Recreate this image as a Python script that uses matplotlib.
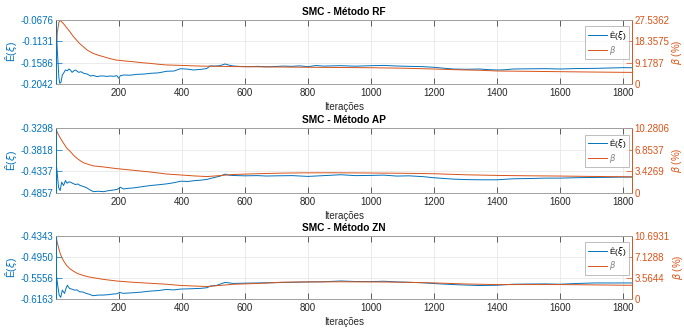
import matplotlib
matplotlib.use('Agg')
import matplotlib.pyplot as plt

# MATLAB default colours
BLUE = '#0072BD'
ORANGE = '#D95319'
GREY = '#262626'

plt.rcParams['font.family'] = ['Liberation Sans', 'DejaVu Sans']
plt.rcParams['axes.unicode_minus'] = False
plt.rcParams['mathtext.fontset'] = 'dejavusans'

titles = ['SMC - Método RF', 'SMC - Método AP', 'SMC - Método ZN']
x_ticks = [200, 400, 600, 800, 1000, 1200, 1400, 1600, 1800]
x_max = 1827

# --- Método RF ---
rf_iter_e = [1, 5, 10, 13, 17, 21, 26, 31, 37, 42, 47, 52, 58, 63, 68, 73, 80, 89, 100,
             110, 120, 131, 142, 152, 163, 173, 184, 194, 200, 205, 215, 235, 257, 280,
             300, 325, 352, 375, 396, 418, 437, 460, 479, 490, 505, 521, 537, 550, 563,
             590, 616, 640, 668, 700, 720, 750, 773, 800, 825, 850, 877, 904, 950, 1000,
             1040, 1081, 1120, 1165, 1200, 1230, 1260, 1300, 1344, 1370, 1400, 1425,
             1450, 1500, 1554, 1600, 1650, 1710, 1760, 1800, 1827]
rf_e = [-0.0700, -0.1300, -0.1900, -0.2028, -0.2000, -0.1850, -0.1800, -0.1743, -0.1760,
        -0.1722, -0.1745, -0.1793, -0.1760, -0.1743, -0.1770, -0.1793, -0.1780, -0.1814,
        -0.1830, -0.1871, -0.1860, -0.1885, -0.1870, -0.1871, -0.1880, -0.1871, -0.1878,
        -0.1864, -0.1921, -0.1865, -0.1850, -0.1855, -0.1836, -0.1830, -0.1814, -0.1805,
        -0.1770, -0.1765, -0.1715, -0.1725, -0.1743, -0.1730, -0.1712, -0.1655, -0.1660,
        -0.1650, -0.1615, -0.1640, -0.1658, -0.1670, -0.1672, -0.1665, -0.1675, -0.1668,
        -0.1660, -0.1665, -0.1655, -0.1672, -0.1648, -0.1660, -0.1655, -0.1651, -0.1662,
        -0.1651, -0.1645, -0.1658, -0.1665, -0.1672, -0.1686, -0.1705, -0.1722, -0.1728,
        -0.1722, -0.1735, -0.1743, -0.1738, -0.1722, -0.1718, -0.1715, -0.1722, -0.1712,
        -0.1708, -0.1700, -0.1693, -0.1695]
rf_iter_b = [1, 5, 10, 14, 17, 24, 35, 45, 55, 66, 76, 87, 100, 118, 135, 150, 170, 192,
             220, 245, 270, 298, 325, 350, 400, 459, 520, 563, 668, 717, 800, 900, 1000,
             1100, 1200, 1280, 1344, 1400, 1500, 1600, 1700, 1800, 1827]
rf_beta = [14.0, 22.0, 26.5, 27.3, 27.0, 26.1, 24.2, 22.5, 20.6, 18.9, 17.4, 16.1, 14.6,
           13.2, 12.4, 11.8, 11.0, 10.3, 9.9, 9.6, 9.2, 8.9, 8.5, 8.2, 8.0, 7.7, 7.6, 7.5,
           7.35, 7.3, 7.2, 7.1, 7.0, 6.8, 6.45, 6.1, 5.9, 5.6, 5.45, 5.3, 5.15, 5.02, 5.0]
rf_e_ticks = [-0.2042, -0.1586, -0.1131, -0.0676]
rf_b_ticks = [0, 9.1787, 18.3575, 27.5362]

# --- Método AP ---
ap_iter_e = [1, 3, 9, 14, 19, 25, 31, 36, 42, 47, 55, 63, 70, 78, 88, 99, 110, 120, 135,
             152, 168, 184, 195, 205, 215, 230, 247, 270, 300, 325, 352, 375, 396, 420,
             440, 459, 480, 500, 521, 537, 550, 563, 600, 640, 668, 700, 750, 800, 850,
             904, 950, 1000, 1040, 1081, 1120, 1165, 1200, 1260, 1300, 1344, 1400, 1450,
             1500, 1554, 1600, 1650, 1710, 1760, 1800, 1827]
ap_e = [-0.4250, -0.4232, -0.4719, -0.4800, -0.4597, -0.4678, -0.4557, -0.4622, -0.4590,
        -0.4597, -0.4630, -0.4654, -0.4640, -0.4678, -0.4700, -0.4735, -0.4790, -0.4825,
        -0.4815, -0.4825, -0.4800, -0.4784, -0.4770, -0.4719, -0.4760, -0.4745, -0.4735,
        -0.4710, -0.4678, -0.4660, -0.4638, -0.4610, -0.4574, -0.4580, -0.4560, -0.4550,
        -0.4530, -0.4490, -0.4453, -0.4405, -0.4430, -0.4437, -0.4445, -0.4440, -0.4450,
        -0.4445, -0.4440, -0.4459, -0.4440, -0.4419, -0.4440, -0.4435, -0.4428, -0.4451,
        -0.4445, -0.4465, -0.4492, -0.4524, -0.4535, -0.4540, -0.4540, -0.4516, -0.4510,
        -0.4500, -0.4500, -0.4490, -0.4484, -0.4480, -0.4475, -0.4475]
ap_iter_b = [1, 5, 9, 17, 25, 35, 47, 57, 68, 78, 89, 105, 120, 152, 194, 247, 300, 352,
             396, 440, 480, 520, 563, 620, 668, 717, 773, 877, 1000, 1100, 1200, 1300,
             1400, 1500, 1600, 1700, 1800, 1827]
ap_beta = [10.28, 9.6, 9.2, 8.5, 7.87, 7.1, 6.53, 5.95, 5.46, 5.1, 4.77, 4.5, 4.28, 4.12,
           3.85, 3.59, 3.32, 3.0, 2.85, 2.7, 2.6, 2.75, 2.93, 3.02, 3.09, 3.14, 3.18, 3.2,
           3.16, 3.12, 3.05, 2.88, 2.78, 2.72, 2.68, 2.62, 2.57, 2.56]
ap_e_ticks = [-0.4857, -0.4337, -0.3818, -0.3298]
ap_b_ticks = [0, 3.4269, 6.8537, 10.2806]

# --- Método ZN ---
zn_iter_e = [1, 3, 7, 11, 16, 21, 28, 33, 37, 44, 52, 60, 68, 76, 86, 97, 108, 118, 135,
             150, 165, 181, 195, 202, 215, 230, 245, 270, 298, 325, 350, 375, 396, 420,
             459, 480, 490, 510, 537, 563, 600, 640, 668, 700, 750, 800, 850, 904, 950,
             1000, 1040, 1081, 1120, 1165, 1200, 1260, 1300, 1344, 1400, 1450, 1500, 1554,
             1600, 1650, 1710, 1760, 1800, 1827]
zn_e = [-0.5480, -0.5528, -0.5800, -0.6049, -0.6116, -0.5907, -0.6002, -0.5850, -0.5765,
        -0.5860, -0.5880, -0.5907, -0.5900, -0.5955, -0.5960, -0.6002, -0.6030, -0.6068,
        -0.6050, -0.6049, -0.6040, -0.6021, -0.6010, -0.5973, -0.6000, -0.5990, -0.5983,
        -0.5965, -0.5936, -0.5920, -0.5888, -0.5900, -0.5876, -0.5870, -0.5856, -0.5837,
        -0.5790, -0.5770, -0.5684, -0.5713, -0.5705, -0.5700, -0.5694, -0.5690, -0.5680,
        -0.5670, -0.5665, -0.5642, -0.5658, -0.5661, -0.5650, -0.5670, -0.5680, -0.5695,
        -0.5717, -0.5746, -0.5760, -0.5774, -0.5765, -0.5736, -0.5730, -0.5727, -0.5736,
        -0.5715, -0.5699, -0.5700, -0.5699, -0.5699]
zn_iter_b = [1, 5, 9, 14, 19, 27, 35, 45, 56, 70, 87, 100, 118, 150, 192, 245, 298, 350,
             396, 440, 480, 520, 563, 620, 668, 717, 800, 900, 1000, 1100, 1200, 1300,
             1400, 1500, 1600, 1700, 1800, 1827]
zn_beta = [10.69, 9.6, 8.74, 7.8, 7.07, 6.3, 5.68, 5.15, 4.73, 4.3, 4.01, 3.8, 3.62, 3.34,
           3.06, 2.84, 2.67, 2.51, 2.3, 2.2, 2.12, 2.3, 2.5, 2.6, 2.7, 2.85, 2.9, 2.92,
           2.9, 2.85, 2.73, 2.55, 2.45, 2.45, 2.45, 2.4, 2.34, 2.33]
zn_e_ticks = [-0.6163, -0.5556, -0.4950, -0.4343]
zn_b_ticks = [0, 3.5644, 7.1288, 10.6931]

panels = [
    (rf_iter_e, rf_e, rf_iter_b, rf_beta, rf_e_ticks, rf_b_ticks),
    (ap_iter_e, ap_e, ap_iter_b, ap_beta, ap_e_ticks, ap_b_ticks),
    (zn_iter_e, zn_e, zn_iter_b, zn_beta, zn_e_ticks, zn_b_ticks),
]

# axes boxes in pixels (top, bottom) for a 684x333 canvas
W, H = 684, 333
left_px, right_px = 56, 632
rows_px = [(20, 84), (128, 193), (236, 299)]

fig = plt.figure(figsize=(W / 100, H / 100), dpi=100)

for (top, bot), title, (xe, ye, xb, yb, et, bt) in zip(rows_px, titles, panels):
    ax = fig.add_axes([left_px / W, 1 - bot / H, (right_px - left_px) / W, (bot - top) / H])
    axr = ax.twinx()

    l1, = ax.plot(xe, ye, color=BLUE, lw=0.7)
    l2, = axr.plot(xb, yb, color=ORANGE, lw=0.7)

    ax.set_xlim(1, x_max)
    ax.set_ylim(et[0], et[-1])
    axr.set_ylim(bt[0], bt[-1])
    ax.set_xticks(x_ticks)
    ax.set_yticks(et)
    ax.set_yticklabels([f'{v:.4f}' for v in et])
    axr.set_yticks(bt)
    axr.set_yticklabels(['0'] + [f'{v:.4f}' for v in bt[1:]])

    ax.grid(True, color='#e8e8e8', lw=0.6)
    ax.set_axisbelow(True)

    ax.tick_params(axis='x', direction='in', length=4, width=0.5, colors=GREY,
                   labelsize=7, top=True, pad=3)
    ax.tick_params(axis='y', direction='in', length=4, width=0.5, colors=BLUE,
                   labelsize=7, pad=2)
    axr.tick_params(axis='y', direction='in', length=4, width=0.5, colors=ORANGE,
                    labelsize=7, pad=2)
    for a in (ax, axr):
        a.spines['top'].set_color('#a0a0a0')
        a.spines['bottom'].set_color('#a0a0a0')
        a.spines['left'].set_color(BLUE)
        a.spines['right'].set_color(ORANGE)
        for s in a.spines.values():
            s.set_linewidth(0.6)

    ax.set_title(title, fontsize=7.3, fontweight='bold', color='black', pad=3.5)
    ax.set_xlabel('Iterações', fontsize=7, color=GREY, labelpad=3)
    ax.set_ylabel('Ê($\\xi$)', fontsize=7.5, color=BLUE, labelpad=1)
    axr.set_ylabel('$\\beta$ (%)', fontsize=7, color=ORANGE, labelpad=0.5)

    leg = axr.legend([l1, l2], ['Ê($\\xi$)', '$\\beta$'], loc='upper right',
                     bbox_to_anchor=(0.995, 0.9), fontsize=6, frameon=True,
                     fancybox=False, handlelength=2.3, handletextpad=0.3,
                     borderpad=0.3, labelspacing=0.2, borderaxespad=0)
    leg.get_frame().set_edgecolor('#a0a0a0')
    leg.get_frame().set_linewidth(0.6)
    leg.get_texts()[1].set_color('#808080')

fig.savefig('out.png', dpi=100)
